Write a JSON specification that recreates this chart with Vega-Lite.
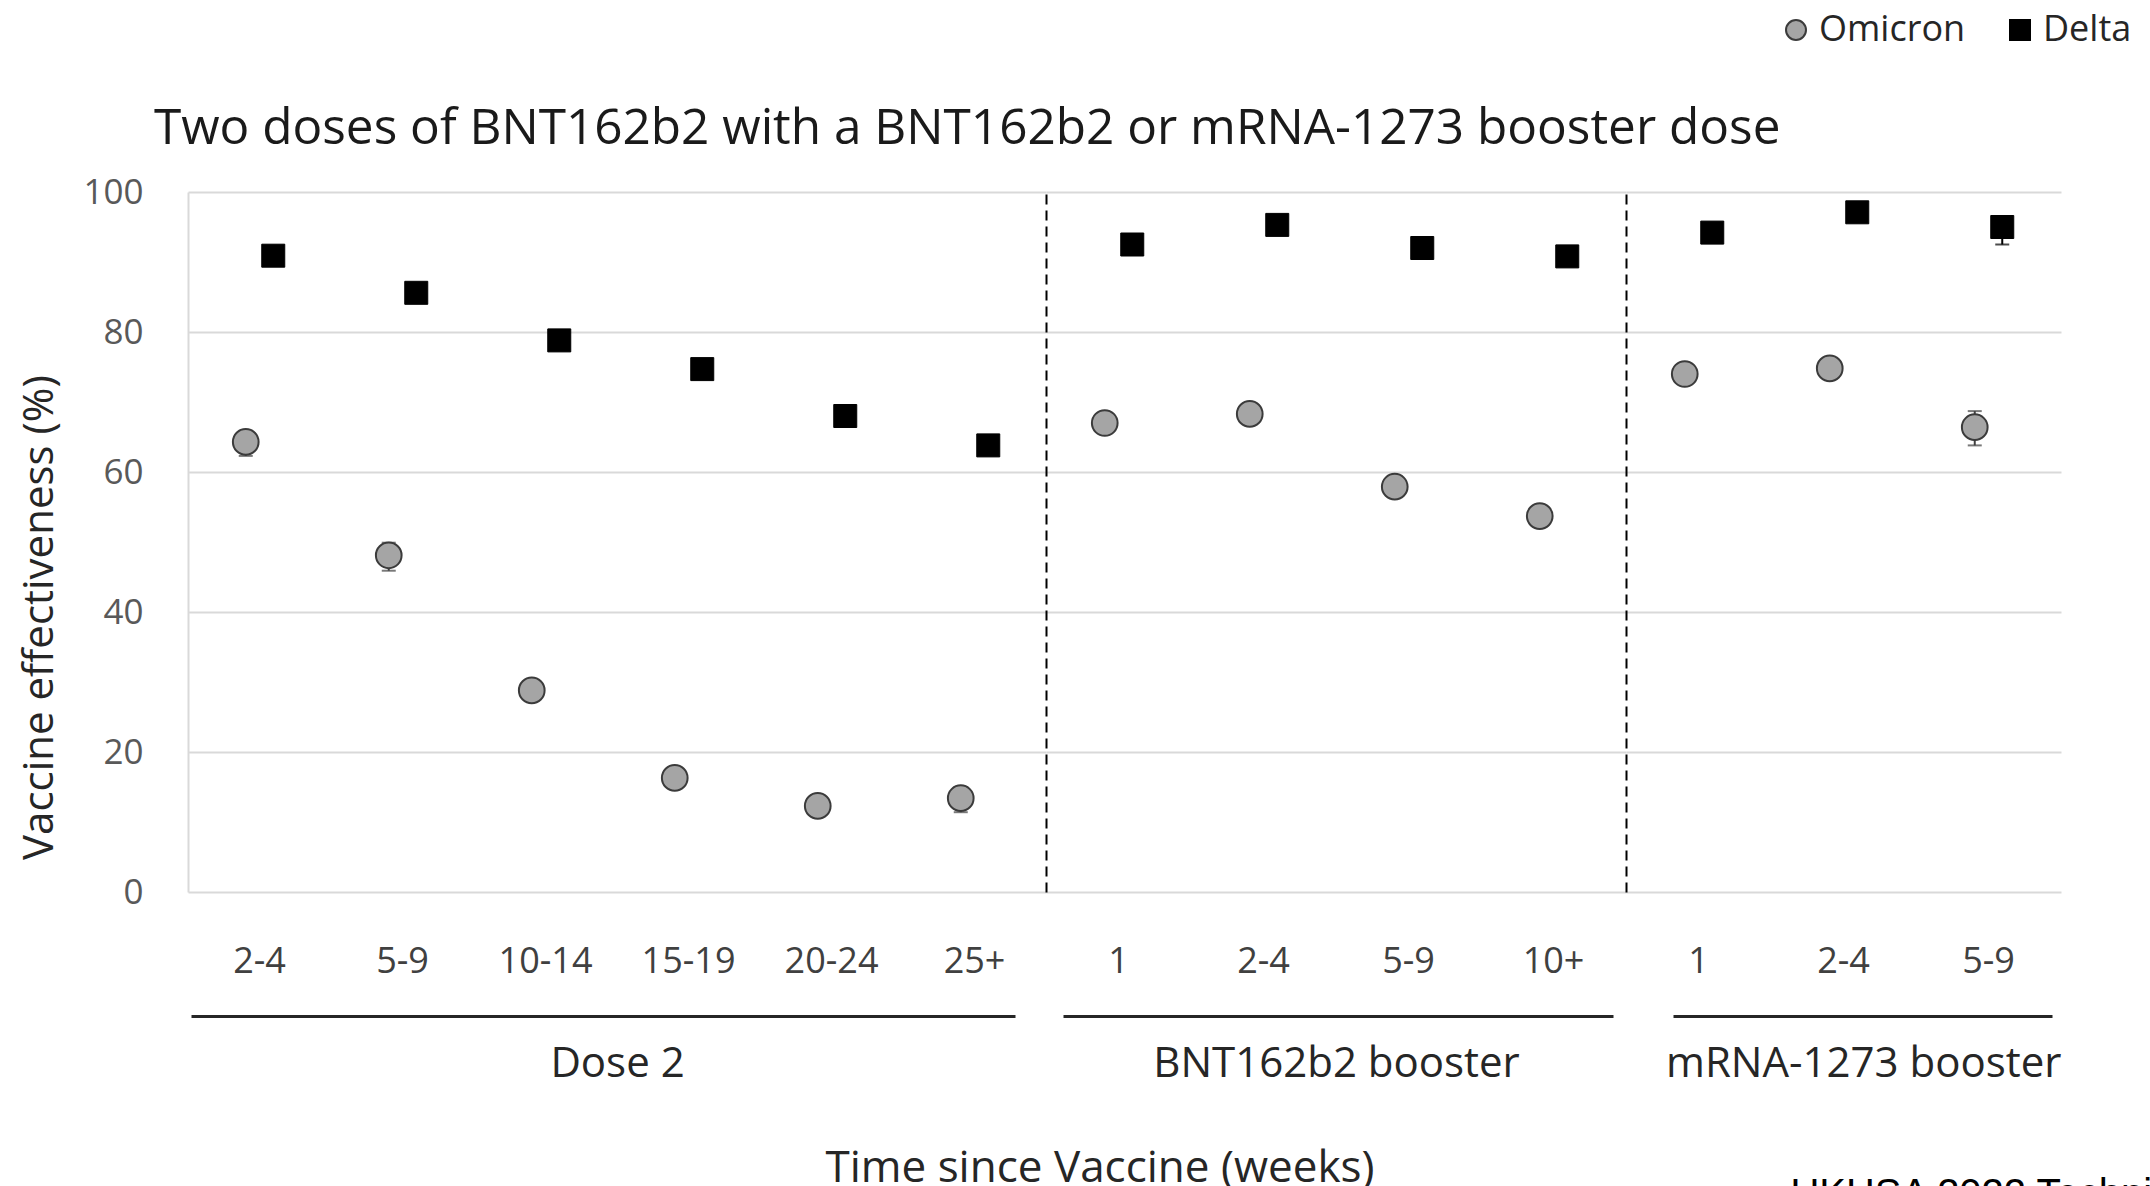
{
"$schema": "https://vega.github.io/schema/vega-lite/v6.json",
"padding": {"left": 18, "top": 12, "right": 0, "bottom": 0},
"background": "white",
"datasets": {"ve": [
{"grp":"Dose 2","key":"D|2-4","variant":"Omicron","ve":64.3,"lo":62.3,"hi":65.9},
{"grp":"Dose 2","key":"D|5-9","variant":"Omicron","ve":48.1,"lo":45.9,"hi":49.9},
{"grp":"Dose 2","key":"D|10-14","variant":"Omicron","ve":28.8,"lo":27.5,"hi":30.0},
{"grp":"Dose 2","key":"D|15-19","variant":"Omicron","ve":16.3,"lo":15.0,"hi":17.5},
{"grp":"Dose 2","key":"D|20-24","variant":"Omicron","ve":12.3,"lo":11.2,"hi":13.4},
{"grp":"Dose 2","key":"D|25+","variant":"Omicron","ve":13.4,"lo":11.4,"hi":15.0},
{"grp":"BNT","key":"B|1","variant":"Omicron","ve":67.0,"lo":65.8,"hi":68.1},
{"grp":"BNT","key":"B|2-4","variant":"Omicron","ve":68.3,"lo":67.3,"hi":69.3},
{"grp":"BNT","key":"B|5-9","variant":"Omicron","ve":57.9,"lo":56.8,"hi":59.0},
{"grp":"BNT","key":"B|10+","variant":"Omicron","ve":53.7,"lo":52.5,"hi":54.9},
{"grp":"mRNA","key":"M|1","variant":"Omicron","ve":74.0,"lo":72.8,"hi":75.0},
{"grp":"mRNA","key":"M|2-4","variant":"Omicron","ve":74.8,"lo":73.6,"hi":75.9},
{"grp":"mRNA","key":"M|5-9","variant":"Omicron","ve":66.4,"lo":63.8,"hi":68.7},
{"grp":"Dose 2","key":"D|2-4","variant":"Delta","ve":90.9,"lo":90.6,"hi":91.2},
{"grp":"Dose 2","key":"D|5-9","variant":"Delta","ve":85.6,"lo":85.2,"hi":86.0},
{"grp":"Dose 2","key":"D|10-14","variant":"Delta","ve":78.8,"lo":78.3,"hi":79.3},
{"grp":"Dose 2","key":"D|15-19","variant":"Delta","ve":74.7,"lo":74.1,"hi":75.2},
{"grp":"Dose 2","key":"D|20-24","variant":"Delta","ve":68.0,"lo":67.3,"hi":68.6},
{"grp":"Dose 2","key":"D|25+","variant":"Delta","ve":63.8,"lo":63.1,"hi":64.5},
{"grp":"BNT","key":"B|1","variant":"Delta","ve":92.5,"lo":92.0,"hi":93.0},
{"grp":"BNT","key":"B|2-4","variant":"Delta","ve":95.3,"lo":95.0,"hi":95.6},
{"grp":"BNT","key":"B|5-9","variant":"Delta","ve":92.0,"lo":91.5,"hi":92.5},
{"grp":"BNT","key":"B|10+","variant":"Delta","ve":90.8,"lo":90.1,"hi":91.4},
{"grp":"mRNA","key":"M|1","variant":"Delta","ve":94.2,"lo":93.8,"hi":94.6},
{"grp":"mRNA","key":"M|2-4","variant":"Delta","ve":97.1,"lo":96.8,"hi":97.4},
{"grp":"mRNA","key":"M|5-9","variant":"Delta","ve":95.0,"lo":92.5,"hi":96.4}
]},
"title": {"text": "Two doses of BNT162b2 with a BNT162b2 or mRNA-1273 booster dose", "anchor": "start", "font": "Open Sans", "fontSize": 49.5, "fontWeight": "normal", "color": "#1a1a1a", "dx": 135, "offset": -142},
"vconcat": [{
  "title": {"text": "UKHSA 2022 Technical Briefing", "orient": "bottom", "anchor": "end", "font": "Liberation Sans", "fontSize": 40, "fontWeight": "normal", "color": "#000000", "offset": -16, "dx": 289},
  "vconcat": [{
    "title": {"text": "Time since Vaccine (weeks)", "orient": "bottom", "anchor": "middle", "font": "Open Sans", "fontSize": 44, "fontWeight": "normal", "color": "#262626", "offset": 63, "dx": 60},
    "spacing": 0,
    "bounds": "flush",
    "hconcat": [
      {
        "width": 858, "height": 700,
        "data": {"name": "ve"},
        "transform": [{"filter": "datum.grp === 'Dose 2'"}],
        "encoding": {"x": {"field": "key", "type": "nominal", "scale": {"domain": ["D|2-4","D|5-9","D|10-14","D|15-19","D|20-24","D|25+"], "paddingInner": 0, "paddingOuter": 0}, "axis": {"title": "Dose 2", "domainDash": [0,3,824,2000], "labelExpr": "split(datum.label, '|')[1]"}}},
        "layer": [
          {"transform": [{"filter": "datum.variant === 'Omicron'"}], "mark": {"type": "rule", "xOffset": -13.75, "color": "#404040", "strokeWidth": 2}, "encoding": {"y": {"field": "lo", "type": "quantitative", "scale": {"domain": [0,100]}, "axis": {"title": "Vaccine effectiveness (%)", "titleY": 425}}, "y2": {"field": "hi"}}},
          {"transform": [{"filter": "datum.variant === 'Omicron'"}, {"fold": ["lo","hi"], "as": ["bound","value"]}], "mark": {"type": "tick", "xOffset": -13.75, "color": "#404040", "thickness": 2, "size": 14}, "encoding": {"y": {"field": "value", "type": "quantitative", "scale": {"domain": [0,100]}, "axis": {"title": "Vaccine effectiveness (%)", "titleY": 425}}}},
          {"transform": [{"filter": "datum.variant === 'Delta'"}], "mark": {"type": "rule", "xOffset": 13.75, "color": "#000000", "strokeWidth": 2}, "encoding": {"y": {"field": "lo", "type": "quantitative", "scale": {"domain": [0,100]}, "axis": {"title": "Vaccine effectiveness (%)", "titleY": 425}}, "y2": {"field": "hi"}}},
          {"transform": [{"filter": "datum.variant === 'Delta'"}, {"fold": ["lo","hi"], "as": ["bound","value"]}], "mark": {"type": "tick", "xOffset": 13.75, "color": "#000000", "thickness": 2, "size": 14}, "encoding": {"y": {"field": "value", "type": "quantitative", "scale": {"domain": [0,100]}, "axis": {"title": "Vaccine effectiveness (%)", "titleY": 425}}}},
          {"transform": [{"filter": "datum.variant === 'Omicron'"}], "mark": {"type": "point", "filled": true, "xOffset": -13.75, "size": 660, "strokeWidth": 2, "opacity": 1}, "encoding": {"y": {"field": "ve", "type": "quantitative", "scale": {"domain": [0,100]}, "axis": {"title": "Vaccine effectiveness (%)", "titleY": 425}}, "shape": {"field": "variant", "type": "nominal", "title": null, "scale": {"domain": ["Omicron","Delta"], "range": ["circle","square"]}}, "fill": {"field": "variant", "type": "nominal", "title": null, "scale": {"domain": ["Omicron","Delta"], "range": ["#a5a5a5","#000000"]}}, "stroke": {"field": "variant", "type": "nominal", "title": null, "scale": {"domain": ["Omicron","Delta"], "range": ["#3b3b3b","#000000"]}}}},
          {"transform": [{"filter": "datum.variant === 'Delta'"}], "mark": {"type": "point", "filled": true, "xOffset": 13.75, "size": 529, "strokeWidth": 1, "opacity": 1}, "encoding": {"y": {"field": "ve", "type": "quantitative", "scale": {"domain": [0,100]}, "axis": {"title": "Vaccine effectiveness (%)", "titleY": 425}}, "shape": {"field": "variant", "type": "nominal", "title": null, "scale": {"domain": ["Omicron","Delta"], "range": ["circle","square"]}}, "fill": {"field": "variant", "type": "nominal", "title": null, "scale": {"domain": ["Omicron","Delta"], "range": ["#a5a5a5","#000000"]}}, "stroke": {"field": "variant", "type": "nominal", "title": null, "scale": {"domain": ["Omicron","Delta"], "range": ["#3b3b3b","#000000"]}}}}
        ]
      },
      {
        "width": 580, "height": 700,
        "data": {"name": "ve"},
        "transform": [{"filter": "datum.grp === 'BNT'"}],
        "encoding": {"x": {"field": "key", "type": "nominal", "scale": {"domain": ["B|1","B|2-4","B|5-9","B|10+"], "paddingInner": 0, "paddingOuter": 0}, "axis": {"title": "BNT162b2 booster", "domainDash": [0,17,550,2000], "labelExpr": "split(datum.label, '|')[1]"}}},
        "layer": [
          {"transform": [{"filter": "datum.variant === 'Omicron'"}], "mark": {"type": "rule", "xOffset": -13.75, "color": "#404040", "strokeWidth": 2}, "encoding": {"y": {"field": "lo", "type": "quantitative", "scale": {"domain": [0,100]}, "axis": {"title": null, "labels": false, "domainColor": "#000000", "domainDash": [10,6], "domainWidth": 2}}, "y2": {"field": "hi"}}},
          {"transform": [{"filter": "datum.variant === 'Omicron'"}, {"fold": ["lo","hi"], "as": ["bound","value"]}], "mark": {"type": "tick", "xOffset": -13.75, "color": "#404040", "thickness": 2, "size": 14}, "encoding": {"y": {"field": "value", "type": "quantitative", "scale": {"domain": [0,100]}, "axis": {"title": null, "labels": false, "domainColor": "#000000", "domainDash": [10,6], "domainWidth": 2}}}},
          {"transform": [{"filter": "datum.variant === 'Delta'"}], "mark": {"type": "rule", "xOffset": 13.75, "color": "#000000", "strokeWidth": 2}, "encoding": {"y": {"field": "lo", "type": "quantitative", "scale": {"domain": [0,100]}, "axis": {"title": null, "labels": false, "domainColor": "#000000", "domainDash": [10,6], "domainWidth": 2}}, "y2": {"field": "hi"}}},
          {"transform": [{"filter": "datum.variant === 'Delta'"}, {"fold": ["lo","hi"], "as": ["bound","value"]}], "mark": {"type": "tick", "xOffset": 13.75, "color": "#000000", "thickness": 2, "size": 14}, "encoding": {"y": {"field": "value", "type": "quantitative", "scale": {"domain": [0,100]}, "axis": {"title": null, "labels": false, "domainColor": "#000000", "domainDash": [10,6], "domainWidth": 2}}}},
          {"transform": [{"filter": "datum.variant === 'Omicron'"}], "mark": {"type": "point", "filled": true, "xOffset": -13.75, "size": 660, "strokeWidth": 2, "opacity": 1}, "encoding": {"y": {"field": "ve", "type": "quantitative", "scale": {"domain": [0,100]}, "axis": {"title": null, "labels": false, "domainColor": "#000000", "domainDash": [10,6], "domainWidth": 2}}, "shape": {"field": "variant", "type": "nominal", "title": null, "scale": {"domain": ["Omicron","Delta"], "range": ["circle","square"]}}, "fill": {"field": "variant", "type": "nominal", "title": null, "scale": {"domain": ["Omicron","Delta"], "range": ["#a5a5a5","#000000"]}}, "stroke": {"field": "variant", "type": "nominal", "title": null, "scale": {"domain": ["Omicron","Delta"], "range": ["#3b3b3b","#000000"]}}}},
          {"transform": [{"filter": "datum.variant === 'Delta'"}], "mark": {"type": "point", "filled": true, "xOffset": 13.75, "size": 529, "strokeWidth": 1, "opacity": 1}, "encoding": {"y": {"field": "ve", "type": "quantitative", "scale": {"domain": [0,100]}, "axis": {"title": null, "labels": false, "domainColor": "#000000", "domainDash": [10,6], "domainWidth": 2}}, "shape": {"field": "variant", "type": "nominal", "title": null, "scale": {"domain": ["Omicron","Delta"], "range": ["circle","square"]}}, "fill": {"field": "variant", "type": "nominal", "title": null, "scale": {"domain": ["Omicron","Delta"], "range": ["#a5a5a5","#000000"]}}, "stroke": {"field": "variant", "type": "nominal", "title": null, "scale": {"domain": ["Omicron","Delta"], "range": ["#3b3b3b","#000000"]}}}}
        ]
      },
      {
        "width": 435, "height": 700,
        "data": {"name": "ve"},
        "transform": [{"filter": "datum.grp === 'mRNA'"}],
        "encoding": {"x": {"field": "key", "type": "nominal", "scale": {"domain": ["M|1","M|2-4","M|5-9"], "paddingInner": 0, "paddingOuter": 0}, "axis": {"title": "mRNA-1273 booster", "titleAnchor": "end", "domainDash": [0,47,379,2000], "labelExpr": "split(datum.label, '|')[1]"}}},
        "layer": [
          {"transform": [{"filter": "datum.variant === 'Omicron'"}], "mark": {"type": "rule", "xOffset": -13.75, "color": "#404040", "strokeWidth": 2}, "encoding": {"y": {"field": "lo", "type": "quantitative", "scale": {"domain": [0,100]}, "axis": {"title": null, "labels": false, "domainColor": "#000000", "domainDash": [10,6], "domainWidth": 2}}, "y2": {"field": "hi"}}},
          {"transform": [{"filter": "datum.variant === 'Omicron'"}, {"fold": ["lo","hi"], "as": ["bound","value"]}], "mark": {"type": "tick", "xOffset": -13.75, "color": "#404040", "thickness": 2, "size": 14}, "encoding": {"y": {"field": "value", "type": "quantitative", "scale": {"domain": [0,100]}, "axis": {"title": null, "labels": false, "domainColor": "#000000", "domainDash": [10,6], "domainWidth": 2}}}},
          {"transform": [{"filter": "datum.variant === 'Delta'"}], "mark": {"type": "rule", "xOffset": 13.75, "color": "#000000", "strokeWidth": 2}, "encoding": {"y": {"field": "lo", "type": "quantitative", "scale": {"domain": [0,100]}, "axis": {"title": null, "labels": false, "domainColor": "#000000", "domainDash": [10,6], "domainWidth": 2}}, "y2": {"field": "hi"}}},
          {"transform": [{"filter": "datum.variant === 'Delta'"}, {"fold": ["lo","hi"], "as": ["bound","value"]}], "mark": {"type": "tick", "xOffset": 13.75, "color": "#000000", "thickness": 2, "size": 14}, "encoding": {"y": {"field": "value", "type": "quantitative", "scale": {"domain": [0,100]}, "axis": {"title": null, "labels": false, "domainColor": "#000000", "domainDash": [10,6], "domainWidth": 2}}}},
          {"transform": [{"filter": "datum.variant === 'Omicron'"}], "mark": {"type": "point", "filled": true, "xOffset": -13.75, "size": 660, "strokeWidth": 2, "opacity": 1}, "encoding": {"y": {"field": "ve", "type": "quantitative", "scale": {"domain": [0,100]}, "axis": {"title": null, "labels": false, "domainColor": "#000000", "domainDash": [10,6], "domainWidth": 2}}, "shape": {"field": "variant", "type": "nominal", "title": null, "scale": {"domain": ["Omicron","Delta"], "range": ["circle","square"]}}, "fill": {"field": "variant", "type": "nominal", "title": null, "scale": {"domain": ["Omicron","Delta"], "range": ["#a5a5a5","#000000"]}}, "stroke": {"field": "variant", "type": "nominal", "title": null, "scale": {"domain": ["Omicron","Delta"], "range": ["#3b3b3b","#000000"]}}}},
          {"transform": [{"filter": "datum.variant === 'Delta'"}], "mark": {"type": "point", "filled": true, "xOffset": 13.75, "size": 529, "strokeWidth": 1, "opacity": 1}, "encoding": {"y": {"field": "ve", "type": "quantitative", "scale": {"domain": [0,100]}, "axis": {"title": null, "labels": false, "domainColor": "#000000", "domainDash": [10,6], "domainWidth": 2}}, "shape": {"field": "variant", "type": "nominal", "title": null, "scale": {"domain": ["Omicron","Delta"], "range": ["circle","square"]}}, "fill": {"field": "variant", "type": "nominal", "title": null, "scale": {"domain": ["Omicron","Delta"], "range": ["#a5a5a5","#000000"]}}, "stroke": {"field": "variant", "type": "nominal", "title": null, "scale": {"domain": ["Omicron","Delta"], "range": ["#3b3b3b","#000000"]}}}}
        ]
      }
    ]
  }]
}],
"config": {
  "view": {"stroke": null},
  "font": "Open Sans",
  "axisY": {"grid": true, "gridColor": "#d9d9d9", "gridWidth": 2, "domainColor": "#d9d9d9", "domainWidth": 2, "ticks": false, "tickCount": 6, "labelFont": "Open Sans", "labelFontSize": 35, "labelColor": "#595959", "labelPadding": 45, "titleFont": "Open Sans", "titleFontSize": 42, "titleFontWeight": "normal", "titleColor": "#262626", "titlePadding": 21},
  "axisX": {"offset": 124, "domainColor": "#262626", "domainWidth": 3, "ticks": false, "grid": false, "labelAngle": 0, "labelFont": "Open Sans", "labelFontSize": 36, "labelColor": "#404040", "labelPadding": -72, "labelOverlap": false, "titleFont": "Open Sans", "titleFontSize": 42, "titleFontWeight": "normal", "titleColor": "#262626", "titlePadding": 27},
  "legend": {"orient": "none", "legendX": 1590, "legendY": -180, "direction": "horizontal", "labelFont": "Open Sans", "labelFontSize": 36, "labelColor": "#262626", "symbolSize": 400, "symbolStrokeWidth": 2, "columnPadding": 36, "labelOffset": 5, "padding": 0}
}
}
